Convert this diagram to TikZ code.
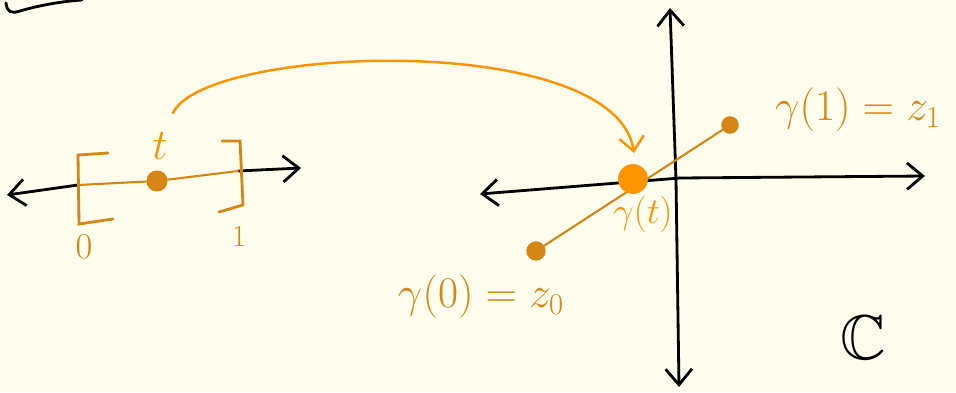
\documentclass[tikz,border=0pt]{standalone}
\usepackage{amsmath, amssymb}
\usetikzlibrary{arrows.meta}
\definecolor{paper}{RGB}{254,253,238}
\definecolor{darkorange}{RGB}{214,134,20}
\definecolor{brightorange}{RGB}{255,147,0}
\tikzset{
  axis/.style={line width=1.6pt, line cap=round, -{Straight Barb[length=9pt, width=15pt, line width=1.6pt]}},
  seg/.style={darkorange, line width=1.2pt, line cap=round},
  dot/.style={circle, fill=#1, inner sep=0pt},
  lbl/.style={font=\fontsize{25}{29}\selectfont},
}

\begin{document}
\begin{tikzpicture}[x=0.02cm, y=-0.02cm]
  \fill[paper] (0,0) rectangle (956,392);
  \useasboundingbox (0,0) rectangle (956,392);
  % stroke cut off at the top left
  \draw[line width=1.6pt, line cap=round] (6,3) .. controls (7,12) and (11,14) .. (20,11) .. controls (40,5) and (65,1) .. (82,0);
  % the interval [0,1]
  \coordinate (lo) at (78,185);
  \coordinate (hi) at (238,171);
  \coordinate (lend) at (7,195);
  \coordinate (rend) at (301,168);
  \node[dot=darkorange, minimum size=12pt] (t) at (157,181) {};
  \draw[axis] (lo) -- (lend);
  \draw[axis] (hi) -- (rend);
  \draw[seg] (lo) -- (t) -- (hi);
  \draw[seg, line width=1.6pt] (108,153) -- (78,155) -- (79,224) -- (113,219);
  \draw[seg, line width=1.6pt] (222,141) -- (240,141) -- (243,205) -- (219,212);
  \node[brightorange, font=\fontsize{24}{28}\selectfont] (tlbl) at (160,146) {$t$};
  \node[darkorange, font=\fontsize{20}{24}\selectfont] (zero) at (84,247) {$0$};
  \node[darkorange, font=\fontsize{16}{20}\selectfont] (one) at (239,237) {$1$};
  % the complex plane
  \coordinate (west) at (480,194);
  \coordinate (east) at (925,176);
  \coordinate (north) at (670,8);
  \coordinate (south) at (679,387);
  \draw[axis] (680,178) -- (west);
  \draw[axis] (680,178) -- (east);
  \draw[axis] (676,180) -- (north);
  \draw[axis] (676,180) -- (south);
  \node[dot=darkorange, minimum size=11pt] (z0) at (536,251) {};
  \node[dot=darkorange, minimum size=10pt] (z1) at (730,125) {};
  \draw[seg] (z0) -- (z1);
  \node[dot=brightorange, minimum size=17pt] (gt) at (633,179) {};
  \node[lbl, darkorange] (z1lbl) at (858,110) {$\gamma(1) = z_1$};
  \node[lbl, darkorange, font=\fontsize{24}{28}\selectfont] (z0lbl) at (481,297) {$\gamma(0) = z_0$};
  \node[brightorange, font=\fontsize{20}{24}\selectfont] (gtlbl) at (643,214) {$\gamma(t)$};
  \node[font=\fontsize{36}{40}\selectfont] (cc) at (863,338) {$\mathbb{C}$};
  % the map t -> gamma(t)
  \draw[brightorange, line width=1.4pt, line cap=round, -{Straight Barb[length=8pt, width=14pt, line width=1.4pt]}]
    (173,113) .. controls (205,45) and (615,30) .. (634,153);
\end{tikzpicture}
\end{document}
